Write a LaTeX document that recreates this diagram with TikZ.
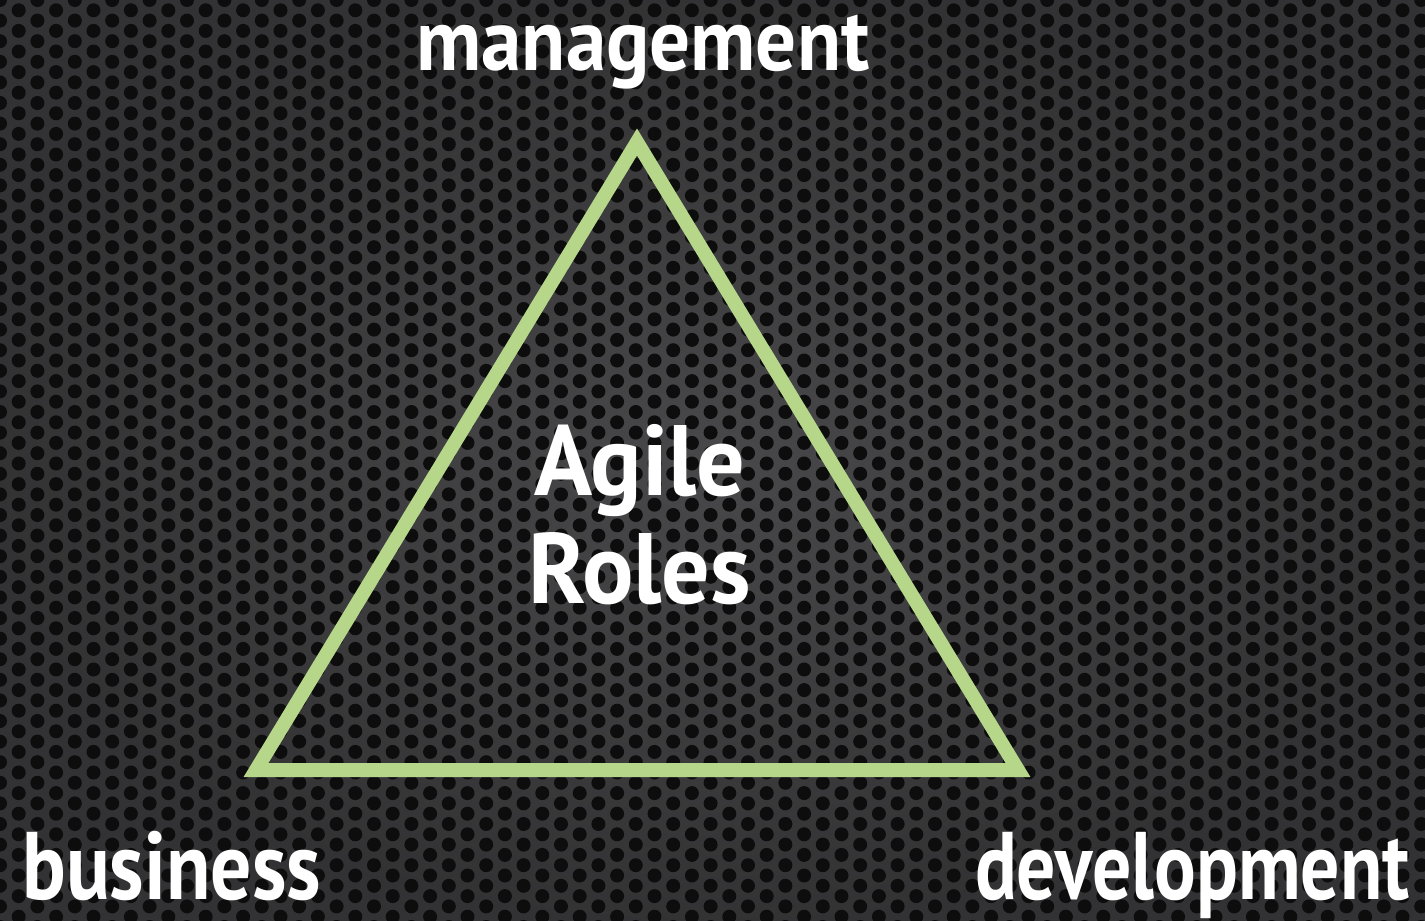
\documentclass[tikz,border=0pt]{standalone}
\usepackage{fontspec}
\setmainfont{PT Sans}
\usepackage{tikz}
\usetikzlibrary{positioning}
\usepackage{xcolor}
\definecolor{plate}{HTML}{48484A}
\definecolor{leaf}{HTML}{B6D68A}

\begin{document}
\begin{tikzpicture}[x=0.5pt, y=-0.5pt,
		role/.style={text=white, font=\bfseries, inner sep=0pt},
		hole/.style={fill=black!95}]
		\useasboundingbox (0,0) rectangle (1425,921);
		% perforated plate
		\begin{scope}
			\clip (0,0) rectangle (1425,921);
			\shade[inner color=plate, outer color=plate!70!black] (0,0) rectangle (1425,921);
			\foreach \i in {0,...,76}
				\foreach \j in {0,...,45}
					\fill[hole] ({\i*18.7}, {\j*20.6 + mod(\i,2)*10.3}) circle (3.5pt);
		\end{scope}
		
		\coordinate (top)   at (637,142);
		\coordinate (left)  at (256,770);
		\coordinate (right) at (1018,770);
		\draw[leaf, line width=7pt, line join=miter] (top) -- (left) -- (right) -- cycle;
		
		\node[role, font=\bfseries\fontsize{44}{44}\selectfont, xscale=0.92, anchor=base] (mgmt) at (643,70) {management};
		\node[role, font=\bfseries\fontsize{50}{54}\selectfont, xscale=0.96, align=center] (agile) at (640,515) {Agile\\Roles};
		\node[role, font=\bfseries\fontsize{48}{48}\selectfont, xscale=0.85, anchor=base west] (bus) at (22,899) {business};
		\node[role, font=\bfseries\fontsize{48}{48}\selectfont, xscale=0.81, anchor=base east] (dev) at (1410,899) {development};
	\end{tikzpicture}
\end{document}
